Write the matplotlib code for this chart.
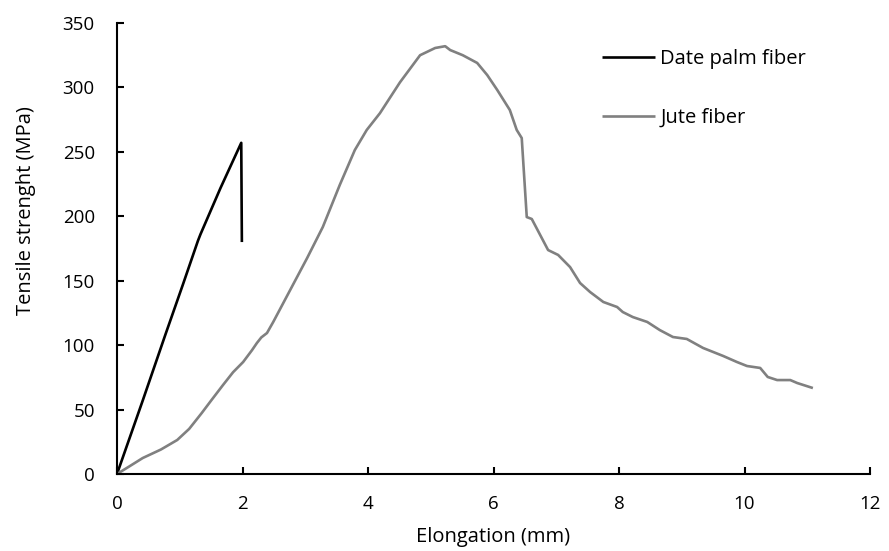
import matplotlib
matplotlib.use("Agg")
import matplotlib.pyplot as plt

plt.rcParams['font.family'] = ['Open Sans', 'DejaVu Sans']

# Date palm fiber
date_x = [0, 0.41, 0.77, 1.05, 1.29, 1.33, 1.65, 1.98, 1.99]
date_y = [0, 57, 108, 147, 181, 186, 222, 257, 180]

# Jute fiber
jute_x = [0, 0.2, 0.41, 0.7, 0.96, 1.15, 1.35, 1.5, 1.69, 1.85, 2.01, 2.15, 2.23, 2.3, 2.39,
          2.49, 2.76, 3.03, 3.28, 3.55, 3.79, 3.98, 4.19, 4.51, 4.83, 5.07, 5.23, 5.31,
          5.51, 5.74, 5.90, 6.06, 6.26, 6.37, 6.45, 6.53, 6.61, 6.87, 7.03, 7.22, 7.38,
          7.54, 7.75, 7.97, 8.06, 8.22, 8.45, 8.65, 8.86, 9.08, 9.34, 9.66, 9.88, 10.04,
          10.25, 10.37, 10.52, 10.73, 10.84, 11.09]
jute_y = [0, 6, 12.4, 19, 26.4, 35, 47.3, 57, 69.1, 79, 86.9, 96, 101.7, 106, 109.4,
          118, 142.8, 167.6, 191.7, 224.3, 251.4, 267, 280, 304, 325, 330.6, 332, 329,
          325, 319, 309.6, 298, 282.5, 267, 260.7, 199.4, 197.9, 173.8, 170, 160.6, 148.2,
          141.2, 133.5, 129.6, 125.7, 121.8, 118, 111.7, 106.3, 104.8, 97.8, 91.6, 86.9, 83.8,
          82.3, 75.3, 72.9, 72.9, 70.6, 66.7]

x_ticks = [0, 2, 4, 6, 8, 10, 12]
y_ticks = [0, 50, 100, 150, 200, 250, 300, 350]

fig = plt.figure(figsize=(8.89, 5.51), dpi=100)
ax = fig.add_axes([117/889, 77/551, 753/889, 451/551])

ax.plot(date_x, date_y, color='black', lw=1.9, label='Date palm fiber',
        solid_joinstyle='round', solid_capstyle='butt')
ax.plot(jute_x, jute_y, color='#808080', lw=1.9, label='Jute fiber',
        solid_joinstyle='round', solid_capstyle='butt')

ax.set_xlim(0, 12)
ax.set_ylim(0, 350)
ax.set_xticks(x_ticks)
ax.set_yticks(y_ticks)
ax.spines['top'].set_visible(False)
ax.spines['right'].set_visible(False)
for s in ['left', 'bottom']:
    ax.spines[s].set_linewidth(1.5)
ax.tick_params(direction='in', length=5, width=1.5, labelsize=13.5)
ax.tick_params(axis='y', pad=16)
ax.tick_params(axis='x', pad=15)

ax.set_xlabel('Elongation (mm)', fontsize=14.5, va='center')
ax.set_ylabel('Tensile strenght (MPa)', fontsize=14.5, va='center')
ax.xaxis.set_label_coords(0.5, -0.1397)
ax.yaxis.set_label_coords(-0.121, 0.585)

ax.legend(loc='upper left', bbox_to_anchor=(0.644, 0.943), frameon=False,
          fontsize=14.5, handlelength=2.65, handletextpad=0.25, labelspacing=1.95,
          borderpad=0, borderaxespad=0)

fig.savefig('out.png', dpi=100)
